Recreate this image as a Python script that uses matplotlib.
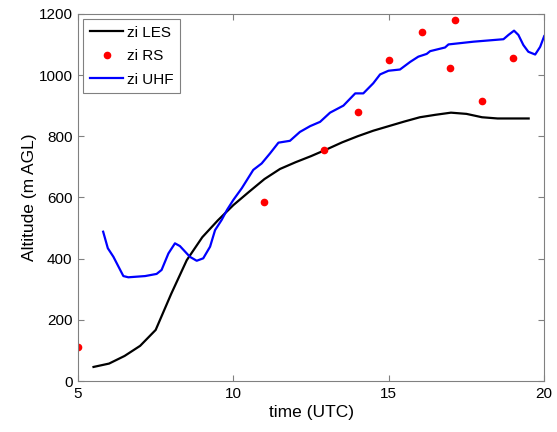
import matplotlib
matplotlib.use('Agg')
import matplotlib.pyplot as plt

plt.rcParams['font.family'] = ['Liberation Sans', 'DejaVu Sans']

# zi LES (black line)
les_t = [5.5, 6.0, 6.5, 7.0, 7.5, 8.0, 8.5, 9.0, 9.5, 10.0, 10.5, 11.0, 11.5, 12.0,
         12.5, 13.0, 13.5, 14.0, 14.5, 15.0, 15.5, 16.0, 16.5, 17.0, 17.5, 18.0,
         18.5, 19.0, 19.5]
les_zi = [46, 57, 82, 115, 167, 285, 395, 470, 525, 575, 618, 660, 693, 715,
          735, 757, 780, 800, 818, 833, 848, 862, 870, 877, 873, 862,
          858, 858, 858]

# zi RS (radiosondes, red dots)
rs_t = [5.0, 11.0, 12.92, 14.0, 15.0, 16.08, 16.97, 17.14, 18.0, 19.0]
rs_zi = [110, 584, 755, 879, 1050, 1141, 1022, 1181, 916, 1055]

# zi UHF (blue line)
uhf_t = [5.81, 5.96, 6.14, 6.46, 6.62, 7.16, 7.53, 7.69, 7.91, 8.12, 8.28, 8.6,
         8.82, 9.03, 9.25, 9.41, 9.62, 9.8, 10.0, 10.27, 10.64, 10.91, 11.18,
         11.45, 11.82, 12.14, 12.47, 12.79, 13.11, 13.54, 13.92, 14.18, 14.5,
         14.72, 14.99, 15.36, 15.69, 15.95, 16.22, 16.33, 16.81, 16.92, 17.73,
         18.69, 18.85, 19.03, 19.17, 19.33, 19.49, 19.71, 19.87, 20.0]
uhf_zi = [488, 434, 406, 343, 339, 343, 350, 363, 417, 450, 441, 406,
          393, 401, 439, 493, 526, 560, 592, 630, 690, 711, 744,
          779, 785, 814, 833, 847, 877, 900, 940, 940, 973,
          1002, 1014, 1018, 1043, 1060, 1069, 1078, 1090, 1100, 1109,
          1117, 1131, 1145, 1131, 1098, 1076, 1067, 1092, 1127]

fig = plt.figure(figsize=(5.57, 4.32), dpi=100)
ax = fig.add_axes([0.140, 0.118, 0.837, 0.850])

ax.plot(les_t, les_zi, '-', color='black', linewidth=1.6, label='zi LES')
ax.plot(rs_t, rs_zi, '.', color='red', markersize=9, label='zi RS')
ax.plot(uhf_t, uhf_zi, '-', color='blue', linewidth=1.6, label='zi UHF')

ax.set_xlim(5, 20)
ax.set_ylim(0, 1200)
ax.set_xticks([5, 10, 15, 20])
ax.set_yticks(range(0, 1201, 200))
ax.tick_params(direction='in', top=True, right=True, labelsize=11, length=4,
               color='#808080', pad=4)
for s in ax.spines.values():
    s.set_color('#808080')

ax.set_xlabel('time (UTC)', fontsize=12.5, labelpad=3)
ax.set_ylabel('Altitude (m AGL)', fontsize=12.5, labelpad=1)

leg = ax.legend(loc='upper left', fontsize=11, fancybox=False, framealpha=1,
                edgecolor='#808080', handlelength=2.2, borderaxespad=0.35,
                handletextpad=0.25, labelspacing=0.62, borderpad=0.42)
leg.get_frame().set_linewidth(0.8)

fig.savefig('out.png', dpi=100)
